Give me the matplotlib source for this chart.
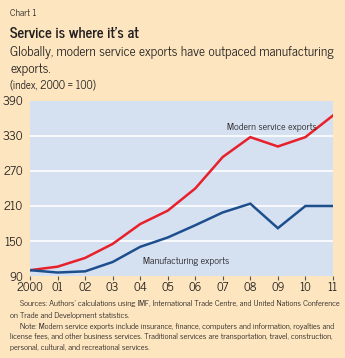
import matplotlib
matplotlib.use("Agg")
import matplotlib.pyplot as plt

# Data (index, 2000 = 100)
years = [2000, 2001, 2002, 2003, 2004, 2005, 2006, 2007, 2008, 2009, 2010, 2011]
year_labels = ["2000", "01", "02", "03", "04", "05", "06", "07", "08", "09", "10", "11"]
modern_services = [100, 106, 121, 145, 179, 202, 240, 294, 328, 312, 328, 365]
manufacturing = [100, 96, 98, 114, 140, 156, 177, 199, 214, 172, 210, 210]
y_ticks = [90, 150, 210, 270, 330, 390]

BG = "#fde6bf"
PLOT_BG = "#d5e0f1"
RED = "#e8202a"
BLUE = "#1d4f8e"
TXT = "#231f20"

plt.rcParams["font.family"] = ["News Cycle", "DejaVu Sans"]

fig = plt.figure(figsize=(3.45, 3.58), dpi=100, facecolor=BG)
ax = fig.add_axes([0.087, 0.229, 0.878, 0.489])
ax.set_facecolor(PLOT_BG)

ax.plot(years, modern_services, color=RED, lw=1.8, solid_joinstyle="miter")
ax.plot(years, manufacturing, color=BLUE, lw=1.8, solid_joinstyle="miter")

ax.set_xlim(2000, 2011)
ax.set_ylim(90, 390)
ax.set_yticks(y_ticks)
ax.set_xticks(years)
ax.set_xticklabels(year_labels)
for y in y_ticks[1:-1]:
    ax.axhline(y, color="white", lw=1.2, zorder=1)

for s in ax.spines.values():
    s.set_visible(False)
ax.tick_params(axis="y", length=0, pad=5, labelsize=8.8, labelcolor=TXT)
ax.tick_params(axis="x", length=3, width=0.8, color="#555555", pad=1, labelsize=8.5, labelcolor=TXT)

ax.text(2007.15, 345, "Modern service exports", fontsize=7.1, color=TXT, ha="left", va="center")
ax.text(2004.1, 115, "Manufacturing exports", fontsize=7.1, color=TXT, ha="left", va="center")

# header
fig.text(0.03, 0.963, "Chart 1", fontsize=6.8, color=TXT, va="center")
fig.text(0.03, 0.905, "Service is where it\u2019s at", fontsize=10.6, weight="bold", color=TXT, va="center")
fig.text(0.03, 0.853, "Globally, modern service exports have outpaced manufacturing", fontsize=9.5, color=TXT, va="center")
fig.text(0.03, 0.807, "exports.", fontsize=9.5, color=TXT, va="center")
fig.text(0.03, 0.762, "(index, 2000 = 100)", fontsize=8, color=TXT, va="center")

# footnotes
notes = [
    (0.058, 0.151, "Sources: Authors\u2019 calculations using IMF, International Trade Centre, and United Nations Conference"),
    (0.03, 0.120, "on Trade and Development statistics."),
    (0.058, 0.089, "Note: Modern service exports include insurance, finance, computers and information, royalties and"),
    (0.03, 0.059, "license fees, and other business services. Traditional services are transportation, travel, construction,"),
    (0.03, 0.030, "personal, cultural, and recreational services."),
]
for x, y, t in notes:
    fig.text(x, y, t, fontsize=6, color=TXT, va="center")

fig.savefig("out.png", dpi=100, facecolor=BG)
